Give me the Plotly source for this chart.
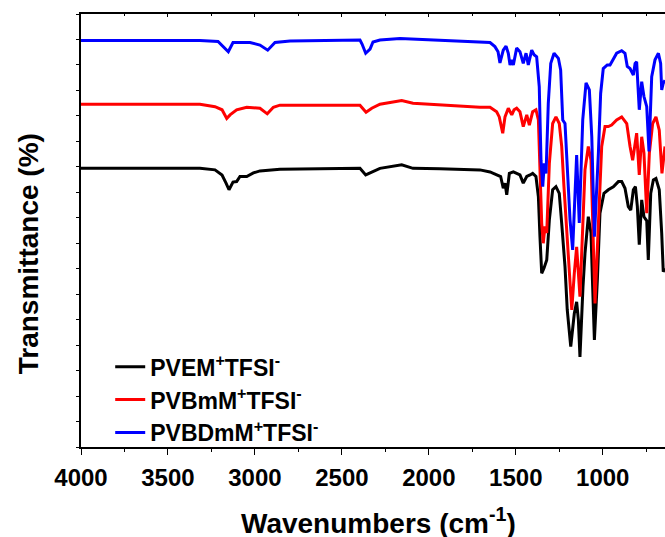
import plotly.graph_objects as go

# ---- data (wavenumber cm-1, transmittance a.u., offset) ----
wn_pvem = [4000, 3316, 3229.5, 3189, 3166, 3149, 3126, 3105, 3086, 3047, 3009, 2971, 2856, 2396, 2363,
           2328, 2281, 2156, 2091, 1936, 1706, 1648, 1587, 1572, 1562, 1552, 1537, 1514, 1495, 1476,
           1457, 1437, 1418, 1403, 1384, 1370, 1361, 1351, 1338, 1322, 1307, 1288, 1269, 1250, 1236,
           1217, 1204, 1184, 1163.5, 1150, 1140, 1131, 1113.5, 1102, 1083, 1067.5, 1058, 1048, 1031,
           1016, 993, 968, 939, 910, 891, 872, 853, 839, 824, 812, 801, 790, 776, 763, 747, 738, 724,
           709, 694, 675, 661, 652, 642]
t_pvem = [54.7, 54.7, 54.4, 53.4, 51.8, 50.5, 52.0, 52.1, 53.1, 53.1, 53.8, 54.2, 54.5, 54.7, 53.4,
          54.0, 54.7, 55.4, 54.7, 54.6, 54.4, 54.0, 53.1, 50.8, 51.8, 49.5, 53.7, 54.0, 53.7, 53.4,
          51.8, 53.1, 53.4, 53.7, 53.1, 49.1, 41.3, 34.1, 35.1, 36.7, 44.6, 50.5, 51.1, 49.8, 43.9,
          35.4, 26.9, 19.7, 26.2, 28.5, 24.9, 17.7, 31.5, 38.0, 45.2, 42.0, 31.5, 21.0, 32.8,
          45.9, 49.8, 50.5, 51.1, 52.1, 52.1, 50.8, 47.2, 46.5, 50.5, 51.1, 47.2, 39.7, 48.5, 45.2,
          44.4, 36.7, 49.8, 52.4, 52.7, 50.5, 42.0, 34.4, 35.1]

wn_pvbmm = [4000, 3316, 3229.5, 3189, 3162, 3143, 3105, 3047, 2971, 2929, 2894, 2856, 2396, 2361,
            2328, 2281, 2156, 2091, 1706, 1648, 1610, 1595, 1575, 1562, 1543, 1523, 1510, 1495, 1476,
            1457, 1437, 1422, 1403, 1384, 1370, 1361, 1351, 1342, 1332, 1322, 1307, 1288, 1269, 1250,
            1236, 1223, 1211, 1198, 1178, 1163.5, 1150, 1131, 1102, 1083, 1067.5, 1044.5, 1025, 1006,
            987, 968, 949, 920, 891, 862, 843, 828, 805, 790, 776, 763, 747, 732, 713, 694, 675,
            659.5, 642]
t_pvbmm = [67.3, 67.3, 66.8, 66.2, 64.5, 65.2, 66.2, 66.7, 66.5, 65.4, 66.7, 67.1, 67.1, 65.7,
           66.5, 67.3, 68.0, 67.5, 66.7, 66.7, 65.8, 64.8, 61.6, 64.8, 66.5, 65.2, 66.2, 66.5, 65.8,
           62.9, 65.2, 63.2, 65.8, 66.2, 64.2, 54.4, 43.9, 40.0, 43.3, 42.0, 55.7, 63.5, 64.8, 63.5,
           59.0, 51.1, 44.6, 38.0, 26.9, 34.1, 39.3, 29.5, 54.4, 59.0, 56.3, 28.2, 44.6, 59.0,
           62.9, 62.9, 63.2, 64.2, 64.8, 63.5, 59.0, 56.3, 61.6, 53.4, 60.9, 57.7, 45.9, 57.7, 63.5,
           64.8, 62.2, 53.7, 59.0]

wn_pvbdmm = [4000, 3316, 3212, 3153, 3126, 3028, 2971, 2926.5, 2884.5, 2798, 2396, 2384, 2363, 2338,
             2321, 2281, 2166, 1936, 1821, 1706, 1648, 1620, 1602, 1591, 1572, 1556, 1543, 1533, 1523,
             1514, 1495, 1476, 1457, 1441, 1428, 1408.5, 1395, 1380, 1365, 1355, 1345, 1336, 1326,
             1313, 1299, 1280, 1255, 1242, 1230, 1217, 1204, 1188, 1173, 1165, 1150, 1135, 1115, 1096,
             1077, 1063, 1048, 1025, 1012, 997, 974, 958, 939, 920, 891, 872, 859, 843, 824, 814, 805,
             790, 776, 763, 747, 734, 718.5, 699.5, 680, 667, 661, 652, 642]
t_pvbdmm = [79.8, 79.8, 79.6, 77.6, 79.4, 79.4, 78.9, 77.9, 79.4, 79.7, 79.9, 79.1, 77.3, 78.1,
            79.5, 79.9, 80.2, 79.8, 79.6, 79.4, 79.4, 78.6, 77.6, 75.4, 77.9, 78.7, 77.3, 75.0, 76.0,
            75.0, 78.3, 77.6, 75.3, 77.3, 75.0, 77.9, 77.0, 76.6, 70.7, 56.3, 51.1, 55.7, 53.7,
            67.5, 75.3, 77.3, 76.3, 74.0, 64.2, 63.5, 54.4, 44.6, 38.7, 44.6, 57.3, 44.0, 64.2, 71.5,
            70.1, 60.9, 41.3, 57.7, 69.4, 74.3, 75.0, 75.0, 76.3, 77.3, 77.8, 77.3, 74.7, 74.3, 73.0, 75.3, 75.6,
            66.2, 71.7, 68.8, 66.8, 58.0, 72.7, 76.0, 77.3, 75.3, 70.1, 71.4, 72.0]

series_names = ["PVEM<sup>+</sup>TFSI<sup>-</sup>",
                "PVBmM<sup>+</sup>TFSI<sup>-</sup>",
                "PVBDmM<sup>+</sup>TFSI<sup>-</sup>"]
series_colors = ["#000000", "#ff0000", "#0000ff"]

x_title = "Wavenumbers (cm<sup>-1</sup>)"
y_title = "Transmittance (%)"

x_range = [4000, 642]
y_range = [0, 85]

FONT = "Liberation Sans, Arial, Helvetica, sans-serif"

fig = go.Figure()
for wn, t, name, col in zip([wn_pvem, wn_pvbmm, wn_pvbdmm], [t_pvem, t_pvbmm, t_pvbdmm],
                            series_names, series_colors):
    fig.add_trace(go.Scatter(x=wn, y=t, mode="lines", name=name,
                             line=dict(color=col, width=3)))

# empty trace to realise the mirrored top axis with inward ticks
fig.add_trace(go.Scatter(x=[], y=[], xaxis="x2", yaxis="y", showlegend=False, hoverinfo="skip"))

fig.update_layout(
    width=665, height=537,
    margin=dict(l=81, r=0, t=14, b=90),
    paper_bgcolor="white", plot_bgcolor="white",
    font=dict(family=FONT, color="black"),
    showlegend=True,
    legend=dict(x=0.05, y=0.235, xanchor="left", yanchor="top",
                bgcolor="rgba(0,0,0,0)", borderwidth=0,
                font=dict(family=FONT, size=23, weight="bold", color="black"),
                tracegroupgap=0),
    xaxis=dict(range=x_range, showgrid=False, zeroline=False,
               showline=True, linecolor="black", linewidth=1.5,
               ticks="outside", ticklen=6, tickwidth=1.2, tickcolor="black",
               dtick=500, tick0=0,
               minor=dict(dtick=250, ticks="outside", ticklen=3, tickwidth=1.2, tickcolor="black"),
               tickfont=dict(family=FONT, size=24, weight="bold", color="black"),
               ticklabelstandoff=2),
    xaxis2=dict(range=x_range, overlaying="x", side="top", showgrid=False, zeroline=False,
                showline=True, linecolor="black", linewidth=1.5,
                ticks="inside", ticklen=3, tickwidth=1.2, tickcolor="black",
                dtick=500, tick0=0, showticklabels=False,
                minor=dict(dtick=250, ticks="inside", ticklen=2, tickwidth=1.2, tickcolor="black")),
    yaxis=dict(range=y_range, showgrid=False, zeroline=False,
               showline=True, linecolor="black", linewidth=1.5,
               ticks="outside", ticklen=3, tickwidth=1.2, tickcolor="black",
               dtick=5, tick0=0, showticklabels=False),
    annotations=[
        dict(text=x_title, xref="paper", yref="paper", x=0.509, y=-0.171,
             xanchor="center", yanchor="middle", showarrow=False,
             font=dict(family=FONT, size=28, weight="bold", color="black")),
        dict(text=y_title, xref="paper", yref="paper", x=-0.09, y=0.446,
             xanchor="center", yanchor="middle", showarrow=False, textangle=-90,
             font=dict(family=FONT, size=28, weight="bold", color="black")),
    ],
)

fig.write_html("out.html",
               config={"displayModeBar": False},
               post_script="document.body.style.margin='0';document.body.style.overflow='hidden';"
                           "document.documentElement.style.overflow='hidden';")
